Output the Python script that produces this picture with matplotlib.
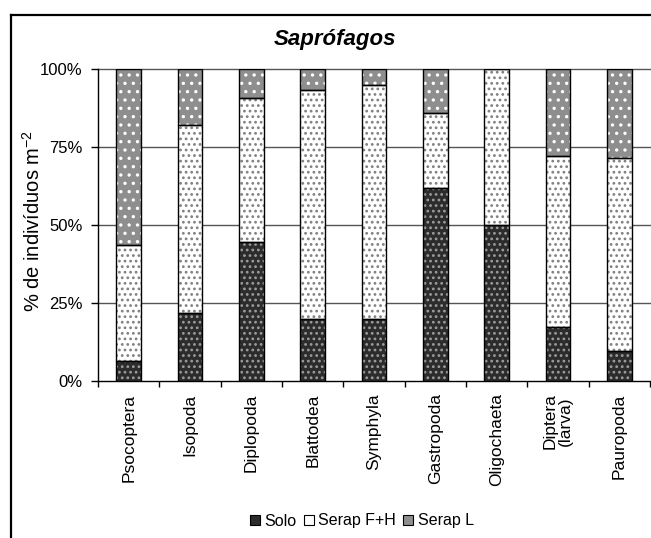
import matplotlib
matplotlib.use("Agg")
import matplotlib.pyplot as plt
from matplotlib.patches import Patch
from matplotlib.lines import Line2D
from matplotlib.legend_handler import HandlerTuple
from matplotlib.ticker import FixedLocator, PercentFormatter

plt.rcParams['font.family'] = ['Liberation Sans', 'DejaVu Sans']
plt.rcParams['mathtext.fontset'] = 'custom'
plt.rcParams['mathtext.rm'] = 'Liberation Sans'
plt.rcParams['hatch.linewidth'] = 1.2

categories = ["Psocoptera", "Isopoda", "Diplopoda", "Blattodea", "Symphyla",
              "Gastropoda", "Oligochaeta", "Diptera\n(larva)", "Pauropoda"]
solo = [6.3, 21.8, 44.6, 20.0, 20.0, 62.0, 50.0, 17.4, 9.7]
serap_fh = [37.3, 60.3, 46.2, 73.3, 74.9, 23.8, 50.0, 54.7, 61.7]
serap_l = [56.4, 17.9, 9.2, 6.7, 5.1, 14.2, 0.0, 27.9, 28.6]
series_names = ["Solo", "Serap F+H", "Serap L"]
y_ticks = [0, 25, 50, 75, 100]

styles = [
    dict(face="#2c2c2c", hatch="...", hcol="#9c9c9c"),
    dict(face="white", hatch="...", hcol="#808080"),
    dict(face="#8e8e8e", hatch="..", hcol="white"),
]

fig = plt.figure(figsize=(6.51, 5.38), dpi=100)
ax = fig.add_axes([98/651, 1-381/538, 552/651, 312/538])

x = list(range(len(categories)))
bottom = [0]*len(categories)
handles = []
for vals, st, name in zip([solo, serap_fh, serap_l], styles, series_names):
    ax.bar(x, vals, width=0.4, bottom=bottom, color=st["face"], hatch=st["hatch"],
           edgecolor=st["hcol"], linewidth=0, zorder=3)
    ax.bar(x, vals, width=0.4, bottom=bottom, fill=False, edgecolor="black",
           linewidth=1.0, zorder=4)
    bottom = [b+v for b, v in zip(bottom, vals)]
    handles.append((Patch(facecolor=st["face"], edgecolor=st["hcol"], linewidth=0),
                    Patch(fill=False, edgecolor="black", linewidth=0.8)))

ax.set_xlim(-0.5, len(categories)-0.5)
ax.set_ylim(0, 100)
ax.set_yticks(y_ticks)
ax.yaxis.set_major_formatter(PercentFormatter(decimals=0))
ax.set_xticks(x)
ax.set_xticklabels(categories, rotation=90, ha="center", va="top", fontsize=12.5,
                   linespacing=1.0)
ax.xaxis.set_minor_locator(FixedLocator([i-0.5 for i in range(len(categories)+1)]))
ax.tick_params(axis="x", which="major", length=0, pad=9)
ax.tick_params(axis="x", which="minor", length=4, width=1, direction="out", color="black")
ax.tick_params(axis="y", length=5, width=1, direction="out", labelsize=12, pad=6)
for yv in y_ticks[1:]:
    ax.axhline(yv, color="#555555", linewidth=1.0, zorder=1, clip_on=False)
for s in ["top", "right"]:
    ax.spines[s].set_visible(False)
for s in ["left", "bottom"]:
    ax.spines[s].set_color("black")
    ax.spines[s].set_linewidth(1.0)

fig.text(33/651, 1-221/538, "% de indivíduos m$^{-2}$", rotation=90, ha="center",
         va="center", fontsize=14.5)

fig.text(335/651, 1-40/538, "Saprófagos", ha="center", va="center",
         fontsize=16, fontweight="bold", fontstyle="italic")

fig.legend(handles, series_names, loc="center", bbox_to_anchor=(362/651, 1-521/538),
           ncol=3, frameon=False, fontsize=11.5, handlelength=0.6, handleheight=0.6,
           handletextpad=0.3, columnspacing=0.45, borderpad=0,
           handler_map={tuple: HandlerTuple(ndivide=1, pad=0)})

# outer frame (left and top borders visible)
fig.add_artist(Line2D([11/651, 11/651], [0, 1-15/538], transform=fig.transFigure,
                      color="black", linewidth=1.6))
fig.add_artist(Line2D([11/651, 1.0], [1-15/538, 1-15/538], transform=fig.transFigure,
                      color="black", linewidth=1.6))

fig.savefig("out.png", dpi=100)
